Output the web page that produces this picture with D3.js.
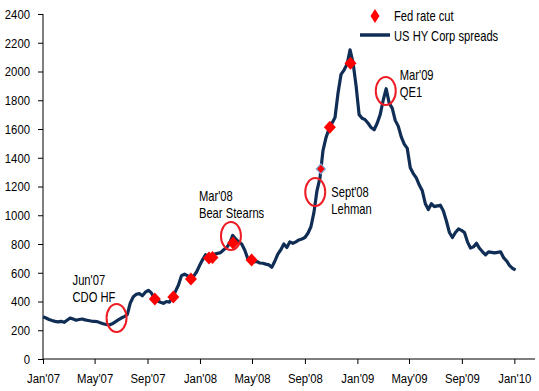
<!DOCTYPE html>
<html>
<head>
  <title>Fed cuts and HY spreads</title>
  <script src="https://d3js.org/d3.v7.min.js"></script>
  <style>
    body { margin: 0; background: #fff; }
    svg text { font-family: "Liberation Sans", Arial, sans-serif; fill: #000; }
  </style>
</head>
<body>
  <div id="chart"></div>

  <script>
    // weekly US HY corporate spreads (bp), first week starts Jan 1 2007
    var spreadStart = "2007-01-01";
    var spreads = [
      294, 285, 275, 268, 262, 258, 262, 255, 270, 285,
      278, 270, 275, 278, 272, 268, 264, 262, 260, 252,
      245, 240, 237, 245, 258, 272, 285, 295, 308, 390,
      433, 450, 455, 440, 465, 478, 460, 420, 405, 395,
      387, 400, 395, 430, 470, 515, 580, 590, 580, 560,
      575, 605, 650, 690, 725, 705, 700, 730, 735, 740,
      760, 775, 805, 860, 835, 815, 800, 758, 700, 685,
      675, 678, 668, 666, 660, 655, 638, 680, 730, 760,
      800, 775, 815, 805, 815, 828, 835, 845, 875, 920,
      1020, 1170, 1260, 1450, 1540, 1600, 1640, 1680, 1850, 1980,
      2010, 2050, 2150, 2060, 1900, 1700, 1675, 1665, 1640, 1610,
      1595, 1640, 1700, 1800, 1880, 1780, 1745, 1660, 1620, 1545,
      1495, 1465, 1330, 1290, 1260, 1210, 1170, 1080, 1040, 1080,
      1060, 1065, 1070, 1030, 960, 880, 845, 880, 905, 895,
      880, 815, 772, 780, 805, 770, 746, 725, 745, 742,
      738, 742, 746, 705, 682, 650, 630, 620
    ];

    // Fed rate cuts and the spread level at each
    var cutDates = ["2007-09-18", "2007-10-31", "2007-12-11", "2008-01-22", "2008-01-30",
                    "2008-03-18", "2008-04-30", "2008-10-08", "2008-10-29", "2008-12-16"];
    var cutValues = [418, 431, 557, 703, 706, 807, 689, 1322, 1612, 2057];

    // annotated events
    var eventDates = ["2007-06-21", "2008-03-13", "2008-09-25", "2009-03-08"];
    var eventValues = [285, 856, 1162, 1865];
    var eventLabels = [["Jun'07", "CDO HF"], ["Mar'08", "Bear Stearns"], ["Sept'08", "Lehman"], ["Mar'09", "QE1"]];

    var yTicks = d3.range(0, 2401, 200);
    var legendLabels = ["Fed rate cut", "US HY Corp spreads"];

    var parse = d3.timeParse("%Y-%m-%d");
    var width = 539, height = 391;
    var margin = { top: 14, right: 4, bottom: 32, left: 43 };

    var svg = d3.select('#chart').append('svg')
      .attr('width', width)
      .attr('height', height);

    // squeeze text horizontally to mimic a narrow font
    function narrow(sel, k) {
      sel.each(function() {
        var t = d3.select(this);
        var tx = +t.attr('x') || 0;
        t.attr('x', tx / k).attr('transform', 'scale(' + k + ',1)');
        t.selectAll('tspan').attr('x', function() { return (+d3.select(this).attr('x') || 0) / k; });
      });
    }

    var x = d3.scaleTime()
      .domain([parse("2007-01-01"), parse("2010-02-18")])
      .range([margin.left, width - margin.right]);

    var y = d3.scaleLinear()
      .domain([0, 2400])
      .range([height - margin.bottom, margin.top]);

    var start = parse(spreadStart);
    var series = spreads.map(function(v, i) {
      return { date: d3.timeDay.offset(start, i * 7), value: v };
    });

    // axes
    var xAxis = svg.append('g')
      .attr('transform', 'translate(0,' + y(0) + ')')
      .call(d3.axisBottom(x)
        .tickValues(d3.timeMonth.range(parse("2007-01-01"), parse("2010-01-02"), 4))
        .tickFormat(d3.timeFormat("%b'%y"))
        .tickSize(5)
        .tickPadding(9));
    xAxis.select('.domain').attr('stroke', '#000').attr('d', 'M' + margin.left + ',0H' + (width - margin.right));
    xAxis.selectAll('.tick line').attr('stroke', '#000');
    xAxis.selectAll('text').attr('font-size', 13.5).call(narrow, 0.84);

    var yAxis = svg.append('g')
      .attr('transform', 'translate(' + margin.left + ',0)')
      .call(d3.axisLeft(y)
        .tickValues(yTicks)
        .tickFormat(d3.format('d'))
        .tickSize(5)
        .tickPadding(8));
    yAxis.select('.domain').attr('stroke', '#000').attr('d', 'M0,' + y(2400) + 'V' + y(0));
    yAxis.selectAll('.tick line').attr('stroke', '#000');
    yAxis.selectAll('text').attr('font-size', 13.5).call(narrow, 0.84);

    // spread line
    var line = d3.line()
      .x(function(d) { return x(d.date); })
      .y(function(d) { return y(d.value); });

    svg.append('path')
      .datum(series)
      .attr('fill', 'none')
      .attr('stroke', '#102e55')
      .attr('stroke-width', 3.2)
      .attr('stroke-linejoin', 'round')
      .attr('d', line);

    // rate cut diamonds
    function diamond(w, h) {
      return 'M0,' + (-h) + 'L' + w + ',0L0,' + h + 'L' + (-w) + ',0Z';
    }
    svg.selectAll('.cut')
      .data(cutDates)
      .enter()
      .append('path')
      .attr('class', 'cut')
      .attr('transform', function(d, i) { return 'translate(' + x(parse(d)) + ',' + y(cutValues[i]) + ')'; })
      .attr('d', function(d) { return d === "2008-10-08" ? diamond(4.5, 5) : diamond(6, 6.5); })
      .attr('fill', '#ff0000')
      .attr('stroke', function(d) { return d === "2008-10-08" ? '#7fa7d9' : 'none'; })
      .attr('stroke-width', 1.2);

    // event circles and labels
    var labelDx = [-44, -32, 16, 14];
    var labelDy = [-38, -40, 0, -16];
    var ev = svg.selectAll('.event')
      .data(eventDates)
      .enter()
      .append('g')
      .attr('class', 'event')
      .attr('transform', function(d, i) { return 'translate(' + x(parse(d)) + ',' + y(eventValues[i]) + ')'; });

    ev.append('ellipse')
      .attr('rx', 10)
      .attr('ry', 14)
      .attr('fill', 'none')
      .attr('stroke', '#ee1c25')
      .attr('stroke-width', 2);

    ev.each(function(d, i) {
      var t = d3.select(this).append('text')
        .attr('x', labelDx[i])
        .attr('y', labelDy[i])
        .attr('font-size', 14);
      eventLabels[i].forEach(function(s, k) {
        t.append('tspan')
          .attr('x', labelDx[i])
          .attr('dy', k === 0 ? '0.35em' : 17)
          .text(s);
      });
      t.call(narrow, 0.8);
    });

    // legend
    var legend = svg.append('g').attr('transform', 'translate(360,0)');
    legend.append('path')
      .attr('transform', 'translate(15,16)')
      .attr('d', diamond(4.5, 7))
      .attr('fill', '#ff0000');
    legend.append('line')
      .attr('x1', 0).attr('x2', 30)
      .attr('y1', 35).attr('y2', 35)
      .attr('stroke', '#102e55')
      .attr('stroke-width', 3.5);
    legend.selectAll('.leg-text')
      .data(legendLabels)
      .enter()
      .append('text')
      .attr('class', 'leg-text')
      .attr('x', 34)
      .attr('y', function(d, i) { return 16 + i * 20; })
      .attr('dy', '0.35em')
      .attr('font-size', 14)
      .text(function(d) { return d; })
      .call(narrow, 0.8);
  </script>
</body>
</html>
